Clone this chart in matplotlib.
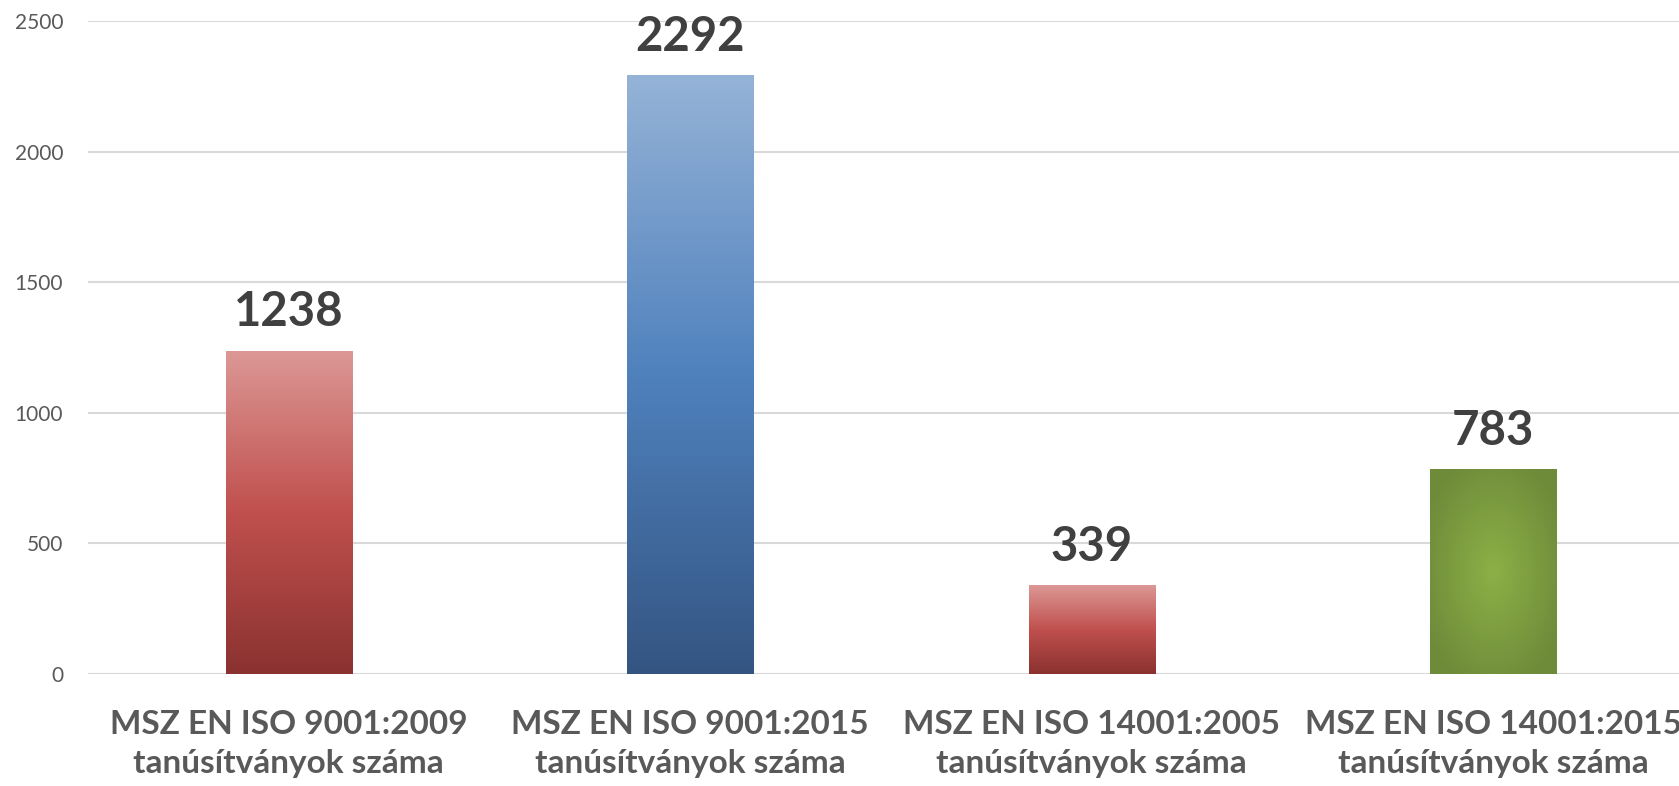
import matplotlib.pyplot as plt
import numpy as np
from matplotlib import font_manager

# --- data ---
categories = [
    'MSZ EN ISO 9001:2009\ntanúsítványok száma',
    'MSZ EN ISO 9001:2015\ntanúsítványok száma',
    'MSZ EN ISO 14001:2005\ntanúsítványok száma',
    'MSZ EN ISO 14001:2015\ntanúsítványok száma',
]
values = [1238, 2292, 339, 783]
y_ticks = [0, 500, 1000, 1500, 2000, 2500]

# gradient styles: (top, middle, bottom) for linear, (centre, edge) for radial
red = ['#dc9896', '#c0504d', '#8a3230']
blue = ['#95b3d7', '#4f81bd', '#345582']
green = ['#8db046', '#6e8b3a']
styles = [('lin', red), ('lin', blue), ('lin', red), ('rad', green)]

# pick a narrow-ish font if available
names = {f.name for f in font_manager.fontManager.ttflist}
fams = [f for f in ['Liberation Sans Narrow', 'DejaVu Sans Condensed', 'Lato', 'DejaVu Sans'] if f in names]
plt.rcParams['font.family'] = fams

fig = plt.figure(figsize=(16.79, 7.86), dpi=100)
ax = fig.add_axes([88 / 1679, 112 / 786, (1694 - 88) / 1679, 653 / 786])

x = np.arange(len(values))
bars = ax.bar(x, values, width=0.314, facecolor='none', edgecolor='none', zorder=3)


def lin_grad(cols, n=256):
    c = [np.array(plt.matplotlib.colors.to_rgb(k)) for k in cols]
    t = np.linspace(0, 1, n)[:, None]
    top = np.where(t < 0.5, 1 - t * 2, 0)
    bot = np.where(t > 0.5, t * 2 - 1, 0)
    mid = 1 - top - bot
    img = top * c[0] + mid * c[1] + bot * c[2]
    return img[:, None, :]


def rad_grad(cols, n=200):
    c0 = np.array(plt.matplotlib.colors.to_rgb(cols[0]))
    c1 = np.array(plt.matplotlib.colors.to_rgb(cols[1]))
    yy, xx = np.mgrid[-1:1:n * 1j, -1:1:n * 1j]
    r = np.clip(np.sqrt(xx ** 2 + yy ** 2) / 1.2, 0, 1)[..., None]
    return (1 - r) * c0 + r * c1


for b, (kind, cols) in zip(bars, styles):
    x0, w, h = b.get_x(), b.get_width(), b.get_height()
    img = lin_grad(cols) if kind == 'lin' else rad_grad(cols)
    im = ax.imshow(img, extent=[x0, x0 + w, 0, h], origin='upper', aspect='auto', zorder=3)
    im.set_clip_path(b)

for xi, v in zip(x, values):
    ax.annotate(str(v), (xi, v), xytext=(0, 12), textcoords='offset points',
                ha='center', va='bottom', fontsize=34, fontweight='bold', color='#404040')

ax.set_xlim(-0.5, 3.5)
ax.set_ylim(0, 2500)
ax.set_yticks(y_ticks)
ax.set_xticks(x)
ax.set_xticklabels(categories, fontsize=24, fontweight='bold', color='#595959', linespacing=1.4)
ax.tick_params(axis='x', length=0, pad=26)
ax.tick_params(axis='y', length=0, pad=18, labelsize=15, labelcolor='#595959')
ax.grid(axis='y', color='#d9d9d9', linewidth=1.5, zorder=0)
ax.set_axisbelow(True)
for s in ax.spines.values():
    s.set_visible(False)

fig.savefig('out.png', dpi=100)
